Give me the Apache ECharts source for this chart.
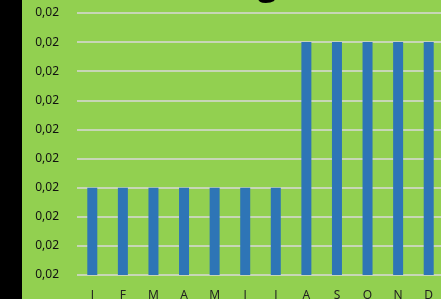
<!DOCTYPE html>
<html>
<head>
<meta charset="utf-8">
<script src="https://cdn.jsdelivr.net/npm/echarts@6/dist/echarts.min.js"></script>
<style>
  html, body { margin: 0; padding: 0; background: #92D050; }
  #chart { width: 441px; height: 299px; }
</style>
</head>
<body>
<div id="chart"></div>
<script>
const months = ['J', 'F', 'M', 'A', 'M', 'J', 'J', 'A', 'S', 'O', 'N', 'D']
const values = [0.0175, 0.0175, 0.0175, 0.0175, 0.0175, 0.0175, 0.0175, 0.02, 0.02, 0.02, 0.02, 0.02]
const chartTitle = 'Rating'

// all ticks show as 0,02 (two decimals, comma separator)
const fmt = v => (Math.round(v * 100) / 100).toFixed(2).replace('.', ',')

const myChart = echarts.init(document.getElementById('chart'))
const option = {
  backgroundColor: '#92D050',
  animation: false,
  grid: { left: 77, right: -3, top: 13, bottom: 24, outerBoundsMode: 'none', containLabel: false },
  graphic: [
    { type: 'rect', shape: { x: 0, y: 0, width: 22, height: 299 }, style: { fill: '#000' } },
    {
      type: 'text', x: 277, y: 2,
      style: {
        text: chartTitle, fill: '#000', font: 'bold 34px "Open Sans"',
        textAlign: 'right', textVerticalAlign: 'bottom'
      }
    }
  ],
  xAxis: {
    type: 'category',
    data: months,
    axisLine: { show: false },
    axisTick: { show: false },
    axisLabel: { color: '#222', fontSize: 12, fontFamily: 'Noto Sans', margin: 15 }
  },
  yAxis: {
    type: 'value',
    min: 0.016,
    max: 0.0205,
    interval: 0.0005,
    axisLabel: {
      color: '#111', fontSize: 12, fontFamily: 'Noto Sans', margin: 18,
      formatter: fmt
    },
    splitLine: { lineStyle: { color: '#D9D9D9', width: 1.5 } }
  },
  series: [{
    type: 'bar',
    data: values,
    barWidth: 10,
    itemStyle: { color: '#2E75B6' }
  }]
}
myChart.setOption(option)
</script>
</body>
</html>
